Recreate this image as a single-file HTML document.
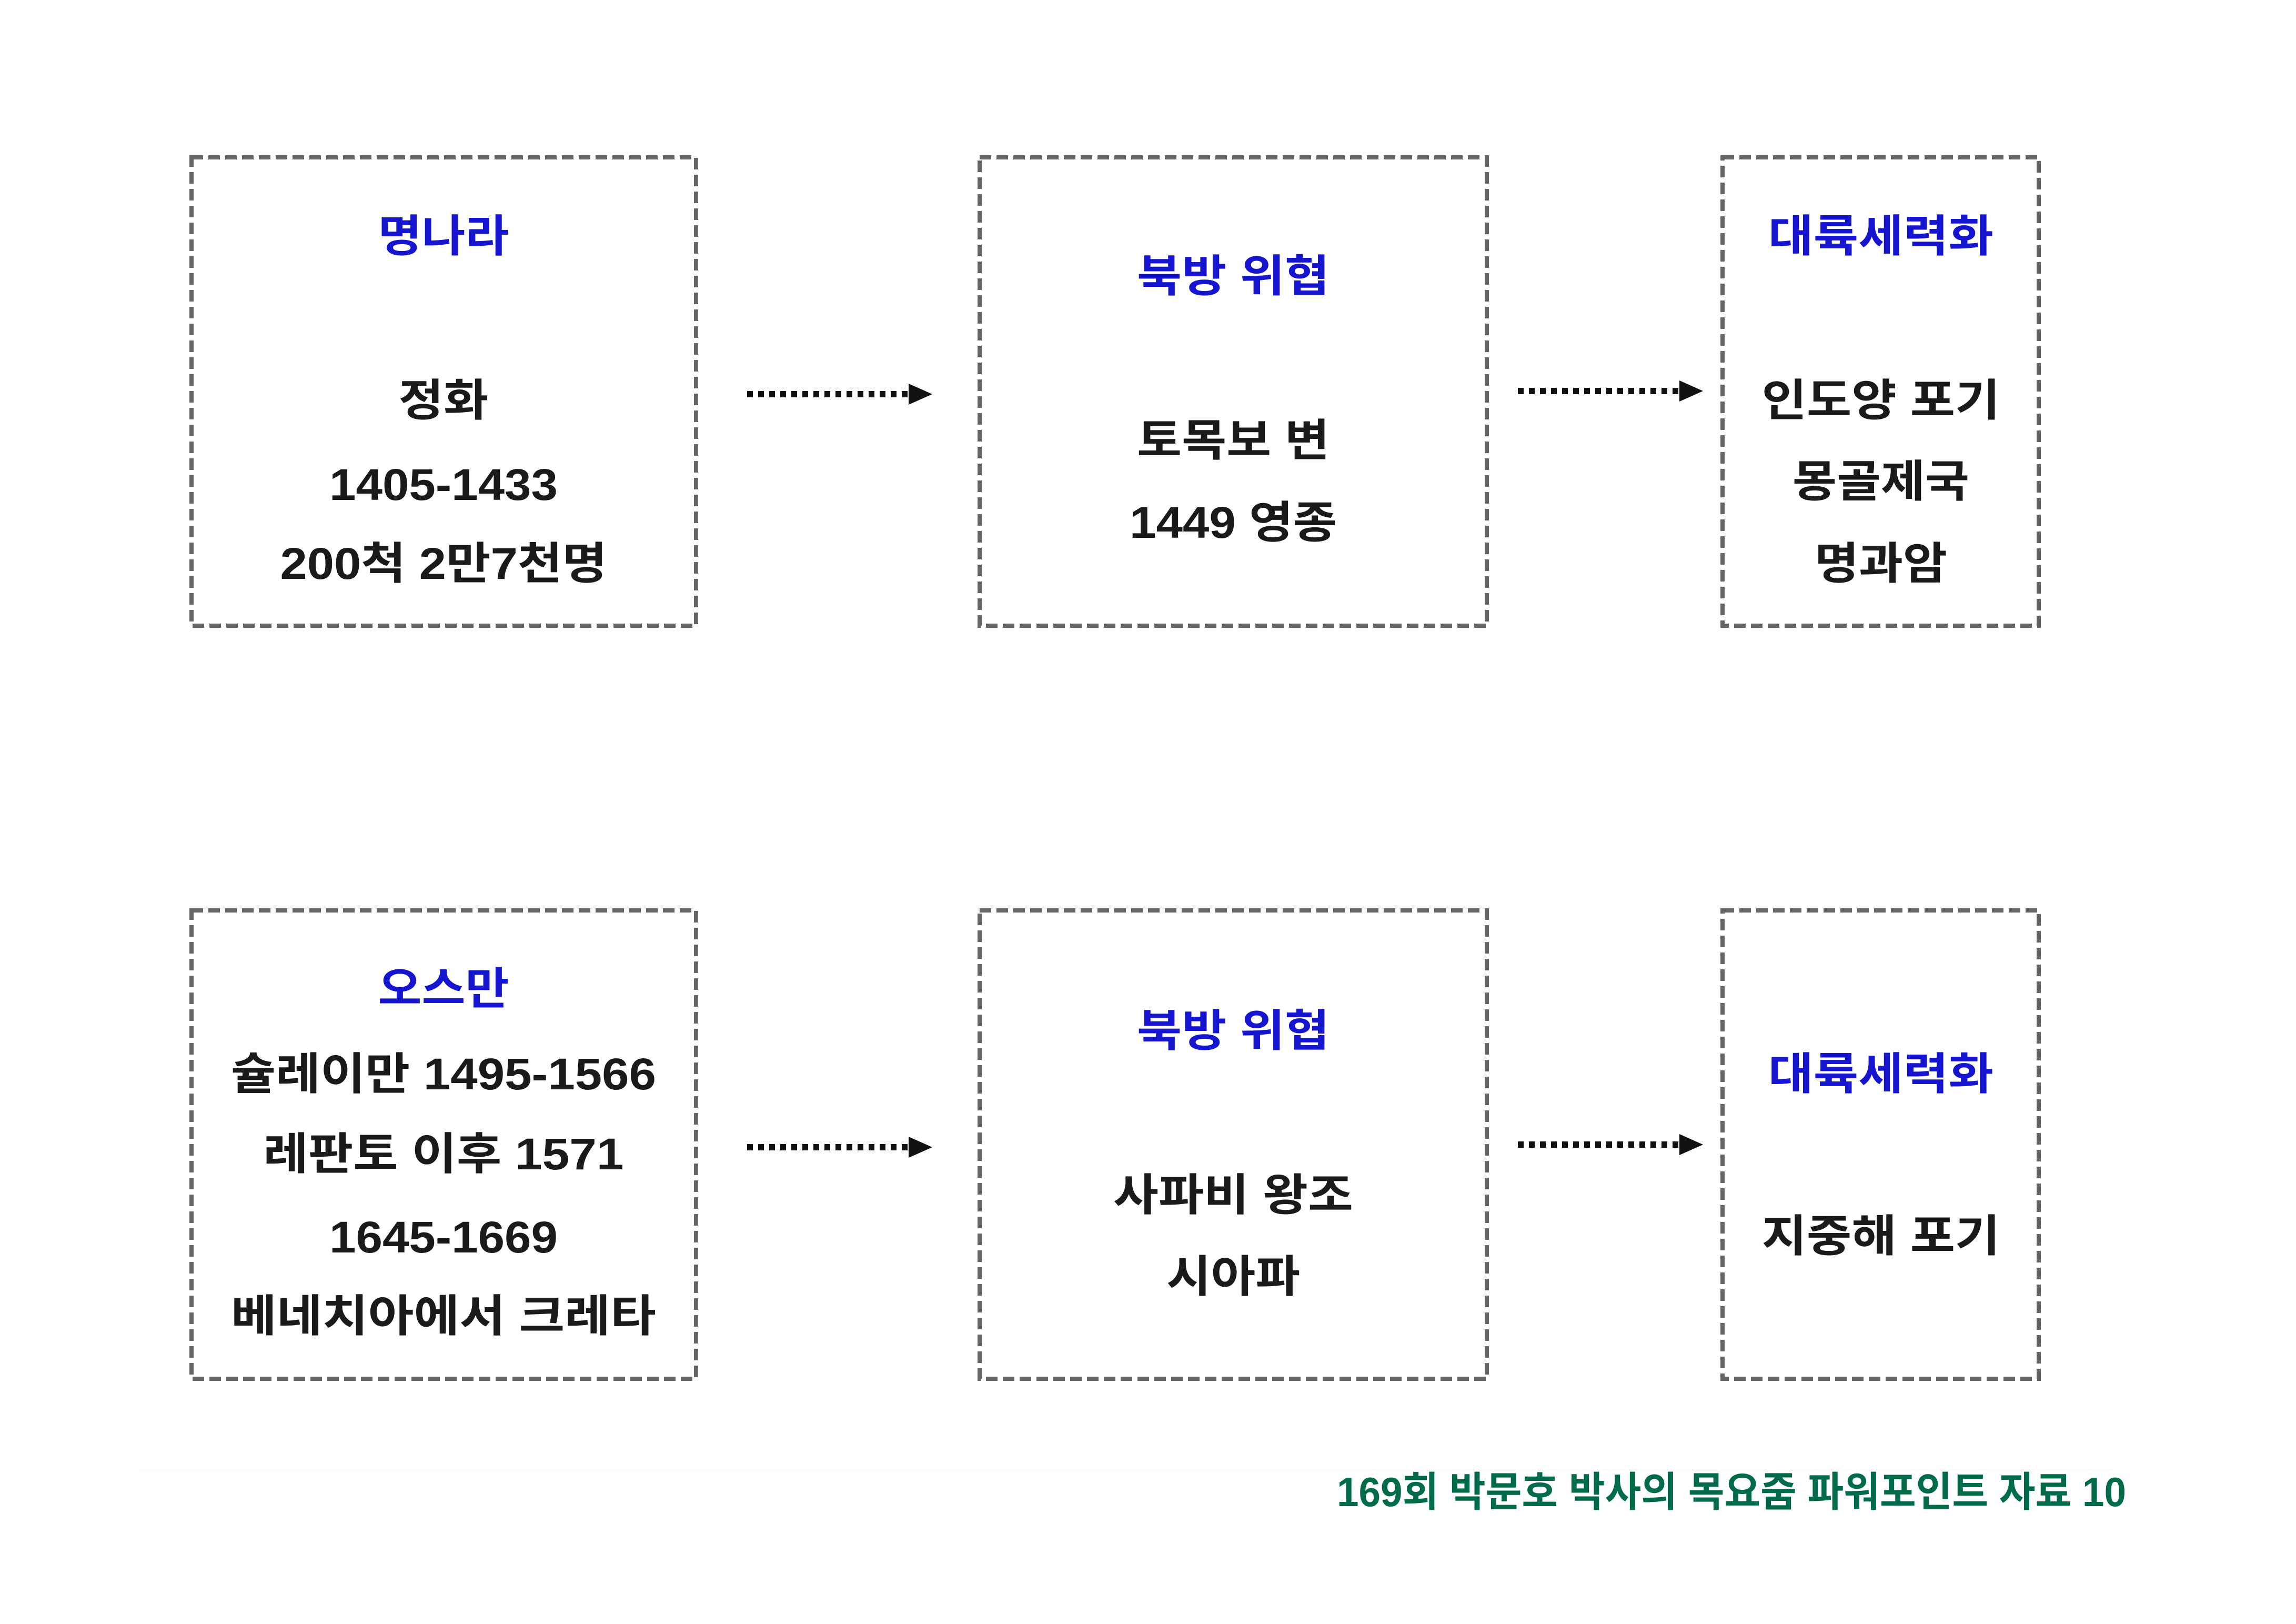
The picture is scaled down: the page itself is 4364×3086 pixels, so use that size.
<!DOCTYPE html>
<html><head><meta charset="utf-8"><style>
html,body{margin:0;padding:0;background:#fff;}
svg{display:block;}
text{font-family:"Liberation Sans","Noto Sans CJK KR","NanumGothic",sans-serif;font-weight:bold;text-anchor:middle;}
</style></head><body>
<svg width="4364" height="3086" viewBox="0 0 4364 3086" xmlns="http://www.w3.org/2000/svg">
<rect x="264" y="238" width="3758" height="2558" fill="#fdfdfd"/>
<g fill="#fff" stroke="#666" stroke-width="8" stroke-dasharray="22 10">
<rect x="364" y="299" width="959" height="890"/>
<rect x="1862" y="299" width="964" height="890"/>
<rect x="3274" y="299" width="601" height="890"/>
<rect x="364" y="1730" width="959" height="890"/>
<rect x="1862" y="1730" width="964" height="890"/>
<rect x="3274" y="1730" width="601" height="890"/>
</g>
<g stroke="#111" stroke-width="12" stroke-dasharray="11 10">
<line x1="1420" y1="749" x2="1729" y2="749"/>
<line x1="2885" y1="743" x2="3194" y2="743"/>
<line x1="1420" y1="2180" x2="1729" y2="2180"/>
<line x1="2885" y1="2175" x2="3194" y2="2175"/>
</g>
<g fill="#111">
<polygon points="1727,729 1772,749 1727,769"/>
<polygon points="3192,723 3237,743 3192,763"/>
<polygon points="1727,2160 1772,2180 1727,2200"/>
<polygon points="3192,2155 3237,2175 3192,2195"/>
</g>
<g font-size="84" fill="#1a1a1a">
<text x="843" y="478" fill="#1515d0" textLength="249" lengthAdjust="spacingAndGlyphs">명나라</text>
<text x="843" y="790" textLength="171" lengthAdjust="spacingAndGlyphs">정화</text>
<text x="843" y="950" textLength="434" lengthAdjust="spacingAndGlyphs">1405-1433</text>
<text x="843" y="1100" textLength="621" lengthAdjust="spacingAndGlyphs">200척 2만7천명</text>

<text x="2344" y="554" fill="#1515d0" textLength="366" lengthAdjust="spacingAndGlyphs">북방 위협</text>
<text x="2344" y="866" textLength="366" lengthAdjust="spacingAndGlyphs">토목보 변</text>
<text x="2344" y="1022" textLength="394" lengthAdjust="spacingAndGlyphs">1449 영종</text>

<text x="3575" y="478" fill="#1515d0" textLength="428" lengthAdjust="spacingAndGlyphs">대륙세력화</text>
<text x="3575" y="790" textLength="453" lengthAdjust="spacingAndGlyphs">인도양 포기</text>
<text x="3575" y="944" textLength="336" lengthAdjust="spacingAndGlyphs">몽골제국</text>
<text x="3575" y="1100" textLength="252" lengthAdjust="spacingAndGlyphs">명과암</text>

<text x="843" y="1908" fill="#1515d0" textLength="249" lengthAdjust="spacingAndGlyphs">오스만</text>
<text x="843" y="2070" textLength="808" lengthAdjust="spacingAndGlyphs">슐레이만 1495-1566</text>
<text x="843" y="2222" textLength="685" lengthAdjust="spacingAndGlyphs">레판토 이후 1571</text>
<text x="843" y="2380" textLength="434" lengthAdjust="spacingAndGlyphs">1645-1669</text>
<text x="843" y="2530" textLength="808" lengthAdjust="spacingAndGlyphs">베네치아에서 크레타</text>

<text x="2344" y="1988" fill="#1515d0" textLength="366" lengthAdjust="spacingAndGlyphs">북방 위협</text>
<text x="2344" y="2300" textLength="456" lengthAdjust="spacingAndGlyphs">사파비 왕조</text>
<text x="2344" y="2455" textLength="254" lengthAdjust="spacingAndGlyphs">시아파</text>

<text x="3575" y="2070" fill="#1515d0" textLength="428" lengthAdjust="spacingAndGlyphs">대륙세력화</text>
<text x="3575" y="2378" textLength="453" lengthAdjust="spacingAndGlyphs">지중해 포기</text>
</g>
<text x="3291" y="2862" font-size="78" fill="#006b4a" textLength="1500" lengthAdjust="spacingAndGlyphs">169회 박문호 박사의 목요줌 파워포인트 자료 10</text>
</svg>
</body></html>
